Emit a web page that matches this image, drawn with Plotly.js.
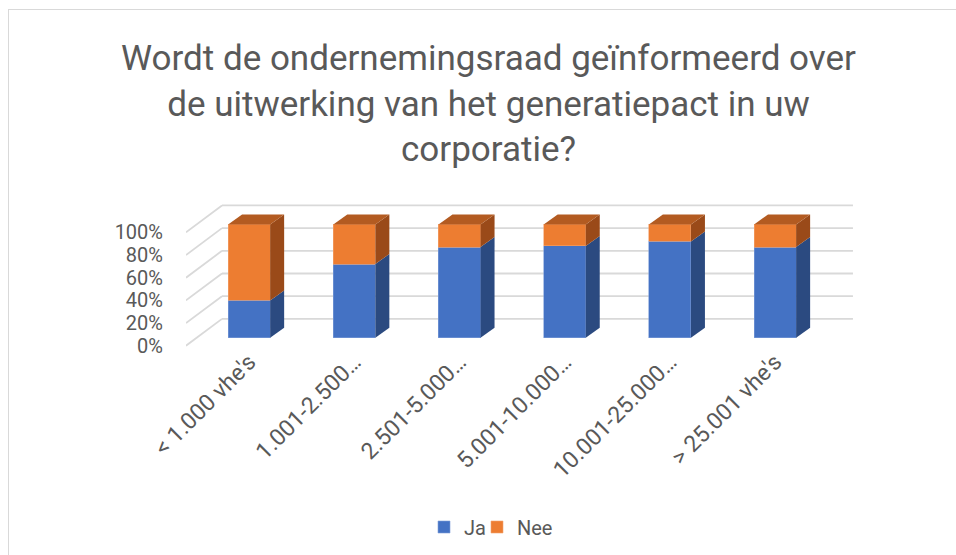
<!DOCTYPE html>
<html>
<head>
<meta charset="utf-8">
<script src="https://cdn.plot.ly/plotly-3.0.1.min.js"></script>
<style>
  html, body { margin: 0; padding: 0; background: #ffffff; }
  #wrap { position: relative; width: 956px; height: 555px; overflow: hidden; }
  #chart { position: absolute; left: 0; top: 0; width: 956px; height: 555px; }
  #frame { position: absolute; left: 8px; top: 9px; width: 960px; height: 560px;
           border-left: 1px solid #d9d9d9; border-top: 1px solid #d9d9d9; pointer-events: none; }
</style>
</head>
<body>
<div id="wrap">
  <div id="chart"></div>
  <div id="frame"></div>
</div>
<script>
// ---- data ----
const categories = ["< 1.000 vhe's", "1.001-2.500…", "2.501-5.000…", "5.001-10.000…", "10.001-25.000…", "> 25.001 vhe's"];
const jaValues  = [33, 65, 80, 81, 85, 80];
const neeValues = [67, 35, 20, 19, 15, 20];
const yTickLevels = [0, 20, 40, 60, 80, 100];
const yTickText = ["0%", "20%", "40%", "60%", "80%", "100%"];
const seriesNames = ["Ja", "Nee"];

// ---- style / pseudo-3D geometry ----
const colJa = "#4472C4", colJaSide = "#2B4A80";
const colNee = "#ED7D31", colNeeSide = "#9A4A19", colNeeTop = "#B35B21";
const barWidth = 0.4;
const depthX = 0.133, depthY = 8.8;        // bar depth
const frontOffset = -7, backOffset = 16.7; // floor/wall front and back
const wallLeftFront = -0.6, wallLeftBack = -0.258, wallRight = 5.74;
const gridColor = "#d9d9d9";

const idx = categories.map((c, i) => i);
const shapes = [];

// side wall diagonals + back wall gridlines
yTickLevels.forEach(v => {
  shapes.push({type: "line", xref: "x", yref: "y", layer: "below",
    x0: wallLeftFront, y0: v + frontOffset, x1: wallLeftBack, y1: v + backOffset,
    line: {color: gridColor, width: 1.8}});
  shapes.push({type: "line", xref: "x", yref: "y", layer: "below",
    x0: wallLeftBack, y0: v + backOffset, x1: wallRight, y1: v + backOffset,
    line: {color: gridColor, width: 1.8}});
});

function poly(pts, color) {
  const d = "M" + pts.map(p => p[0] + "," + p[1]).join("L") + "Z";
  return {type: "path", xref: "x", yref: "y", layer: "above", path: d,
          fillcolor: color, line: {width: 0}};
}

idx.forEach(i => {
  const xr = i + barWidth / 2, xl = i - barWidth / 2;
  const ja = jaValues[i], top = jaValues[i] + neeValues[i];
  shapes.push(poly([[xr, 0], [xr + depthX, depthY], [xr + depthX, ja + depthY], [xr, ja]], colJaSide));
  shapes.push(poly([[xr, ja], [xr + depthX, ja + depthY], [xr + depthX, top + depthY], [xr, top]], colNeeSide));
  shapes.push(poly([[xl, top], [xl + depthX, top + depthY], [xr + depthX, top + depthY], [xr, top]], colNeeTop));
});

const traces = [
  {type: "bar", name: seriesNames[0], x: idx, y: jaValues, width: barWidth, legend: "legend",
   marker: {color: colJa, line: {color: "#7f9fd8", width: 0.6}}, hoverinfo: "skip"},
  {type: "bar", name: seriesNames[1], x: idx, y: neeValues, width: barWidth, legend: "legend2",
   marker: {color: colNee, line: {color: "#f3a46f", width: 0.6}}, hoverinfo: "skip"}
];

const legendCommon = {
  orientation: "h", xref: "container", yref: "container",
  xanchor: "left", yanchor: "middle", y: 1 - 527 / 555,
  font: {size: 20, color: "#595959"}, bgcolor: "rgba(0,0,0,0)"
};

const layout = {
  width: 956, height: 555,
  paper_bgcolor: "#ffffff", plot_bgcolor: "rgba(0,0,0,0)",
  margin: {l: 186, r: 102, t: 203.5, b: 206.7},
  barmode: "stack",
  showlegend: true,
  font: {family: "Roboto, sans-serif", color: "#595959"},
  title: {
    text: "Wordt de ondernemingsraad geïnformeerd over<br>de uitwerking van het generatiepact in uw<br>corporatie?",
    font: {family: "Roboto, sans-serif", size: 35, color: "#595959"},
    x: 0.511, xanchor: "center", xref: "container",
    y: 1 - 70 / 555, yanchor: "top", yref: "container"
  },
  xaxis: {
    range: [-0.6, 5.75],
    tickmode: "array", tickvals: idx, ticktext: categories,
    tickangle: -45, tickfont: {size: 23, color: "#595959"},
    showgrid: false, zeroline: false, showline: false,
    ticks: "", ticklabelstandoff: -5,
    fixedrange: true
  },
  yaxis: {
    range: [-9, 118],
    tickmode: "array", tickvals: yTickLevels.map(v => v + frontOffset), ticktext: yTickText,
    tickfont: {size: 20, color: "#595959"},
    showgrid: false, zeroline: false, showline: false,
    ticks: "outside", ticklen: 18, tickcolor: "rgba(0,0,0,0)",
    fixedrange: true
  },
  legend: Object.assign({}, legendCommon, {x: 424 / 956}),
  legend2: Object.assign({}, legendCommon, {x: 477 / 956}),
  shapes: shapes
};

Plotly.newPlot("chart", traces, layout, {displayModeBar: false, staticPlot: true});
</script>
</body>
</html>
